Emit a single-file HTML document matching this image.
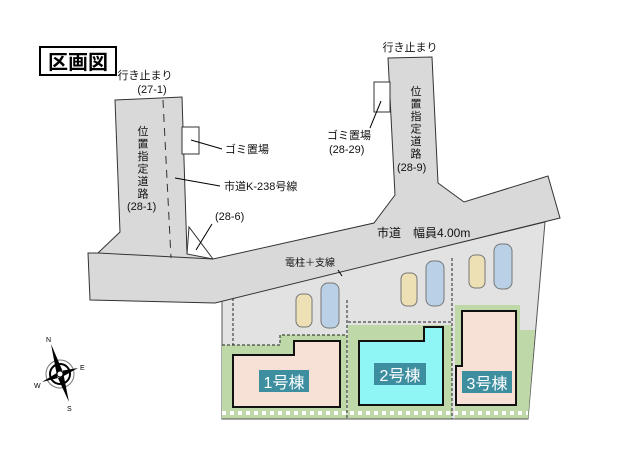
<!DOCTYPE html>
<html><head><meta charset="utf-8"><style>
body{margin:0;background:#fff}
svg{display:block;font-family:"Liberation Sans","Noto Sans CJK JP",sans-serif}
</style></head><body>
<svg width="620" height="459" viewBox="0 0 620 459" xmlns="http://www.w3.org/2000/svg">
<rect width="620" height="459" fill="#fff"/>
<rect x="40" y="47" width="76" height="28" fill="#fff" stroke="#000" stroke-width="2"/>
<text x="78" y="69" font-size="20" font-weight="bold" text-anchor="middle">区画図</text>
<path d="M222,300 L545,222 L528,419 L222,419 Z" fill="#e2e2e2" stroke="#555"/>
<path d="M115,100 L182,97 L187,254 L213,259 L374,223 L395,195 L388,58 L432,57 L438,183 L464,202 L548,176 L560,218 L215,303 L90,300 L88,253 L98,253 L120,232 Z" fill="#d9d9d9" stroke="#333" stroke-width="1"/>
<path d="M98,253 L213,259" stroke="#333" fill="none"/>
<path d="M187,254 L189,227 L213,259" stroke="#333" fill="none"/>
<path d="M163,100 L171,258" stroke="#333" stroke-dasharray="8,6" fill="none"/>
<rect x="182" y="127" width="17" height="27" fill="#fff" stroke="#333"/>
<rect x="374" y="82" width="16" height="30" fill="#fff" stroke="#333"/>
<path d="M191,140 L222,149 M175,178 L220,186 M196,250 L212,224 M381,101 L370,128 M342,276 L338,270" stroke="#000" fill="none"/>
<path d="M222,345 L280,345 L280,335 L347,335 L347,419 L222,419 Z" fill="#bfd8a8"/>
<path d="M348,325 L452,325 L452,419 L348,419 Z" fill="#bfd8a8"/>
<path d="M455,305 L520,305 L520,330 L535,330 L528,419 L455,419 Z" fill="#bfd8a8"/>
<path d="M222,345 L280,345 L280,335 L347,335 M348,322 L452,322 M347,300 L347,419 M452,258 L452,419 M233,298 L233,345" stroke="#222" stroke-dasharray="3,2" fill="none"/>
<path d="M222,413 L528,413" stroke="#fff" stroke-width="4" stroke-dasharray="4,4"/>
<path d="M222,419 L528,419" stroke="#555"/>
<path d="M233,355 L294,355 L294,341 L340,341 L340,407 L233,407 Z" fill="#f7e1d6" stroke="#111" stroke-width="2"/>
<path d="M359,341 L424,341 L424,327 L443,327 L443,405 L359,405 Z" fill="#8ff5f5" stroke="#111" stroke-width="2"/>
<path d="M462,311 L516,311 L516,405 L456,405 L456,366 L462,366 Z" fill="#f7e1d6" stroke="#111" stroke-width="2"/>
<rect x="259" y="370" width="50" height="22" fill="#3d8fa0"/>
<text x="284" y="388" font-size="16" fill="#fff" text-anchor="middle">1号棟</text>
<rect x="374" y="363" width="52" height="22" fill="#3d8fa0"/>
<text x="400" y="381" font-size="16" fill="#fff" text-anchor="middle">2号棟</text>
<rect x="462" y="371" width="50" height="22" fill="#3d8fa0"/>
<text x="487" y="389" font-size="16" fill="#fff" text-anchor="middle">3号棟</text>
<g stroke="#777" stroke-width="1">
<rect x="296" y="294" width="16" height="33" rx="6" fill="#ece0b4"/>
<rect x="321" y="283" width="18" height="45" rx="7" fill="#b9d0e6"/>
<rect x="401" y="273" width="16" height="33" rx="6" fill="#ece0b4"/>
<rect x="426" y="261" width="18" height="45" rx="7" fill="#b9d0e6"/>
<rect x="469" y="255" width="16" height="33" rx="6" fill="#ece0b4"/>
<rect x="494" y="244" width="18" height="45" rx="7" fill="#b9d0e6"/>
</g>
<g font-size="11" fill="#111">
<text x="145" y="79" text-anchor="middle">行き止まり</text>
<text x="152" y="93" text-anchor="middle">(27-1)</text>
<text x="410" y="51" text-anchor="middle">行き止まり</text>
<text x="225" y="153">ゴミ置場</text>
<text x="224" y="190">市道K-238号線</text>
<text x="215" y="220">(28-6)</text>
<text x="327" y="139">ゴミ置場</text>
<text x="329" y="153">(28-29)</text>
<text x="377" y="237" font-size="12">市道　幅員4.00m</text>
<text x="285" y="266" font-size="10">電柱＋支線</text>
<text x="127" y="210">(28-1)</text>
<text x="397" y="171">(28-9)</text>
</g>
<g font-size="11" fill="#111" text-anchor="middle">
<text x="143" y="135">位</text><text x="143" y="147.5">置</text><text x="143" y="160">指</text><text x="143" y="172.5">定</text><text x="143" y="185">道</text><text x="143" y="197.5">路</text>
<text x="416" y="95">位</text><text x="416" y="107.5">置</text><text x="416" y="120">指</text><text x="416" y="132.5">定</text><text x="416" y="145">道</text><text x="416" y="157.5">路</text>
</g>
<g transform="translate(60,374)">
<circle r="14" fill="none" stroke="#777"/>
<circle r="10" fill="none" stroke="#000" stroke-width="2"/>
<path d="M-9,-30 L3,-2 L-3,2 Z M9,28 L3,-2 L-3,2 Z M-18,8 L0,-3 L2,3 Z M18,-6 L0,-3 L2,3 Z" fill="#000"/>
<circle r="3" fill="#fff" stroke="#000"/>
<text x="-14" y="-32" font-size="7">N</text><text x="20" y="-4" font-size="7">E</text>
<text x="-26" y="14" font-size="7">W</text><text x="7" y="37" font-size="7">S</text>
</g>
</svg>
</body></html>
